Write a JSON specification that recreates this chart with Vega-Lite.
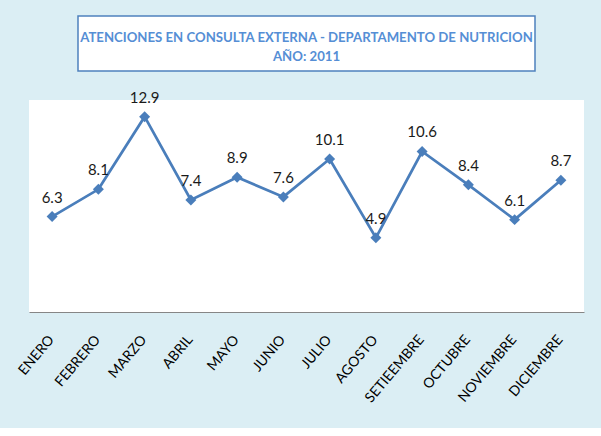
{
  "$schema": "https://vega.github.io/schema/vega-lite/v6.json",
  "background": "#DBEEF4",
  "padding": {"left": 15, "top": 15, "right": 19, "bottom": 22},
  "spacing": 29,
  "bounds": "flush",
  "center": true,
  "config": {
    "font": "Lato, sans-serif"
  },
  "vconcat": [
    {
      "width": 457,
      "height": 55,
      "view": {"fill": "white", "stroke": "#4F81BD", "strokeWidth": 1.5},
      "data": {"values": [{"titulo": ["ATENCIONES EN CONSULTA EXTERNA - DEPARTAMENTO DE NUTRICION", "AÑO: 2011"]}]},
      "mark": {"type": "text", "fontSize": 13.2, "fontWeight": "bold", "color": "#558ED5", "lineHeight": 19, "baseline": "middle", "dy": -6},
      "encoding": {"text": {"field": "titulo", "type": "nominal"}}
    },
    {
      "width": 555,
      "height": 212,
      "view": {"fill": "white", "stroke": null},
      "data": {"values": [
        {"mes": "ENERO", "valor": 6.3},
        {"mes": "FEBRERO", "valor": 8.1},
        {"mes": "MARZO", "valor": 12.9},
        {"mes": "ABRIL", "valor": 7.4},
        {"mes": "MAYO", "valor": 8.9},
        {"mes": "JUNIO", "valor": 7.6},
        {"mes": "JULIO", "valor": 10.1},
        {"mes": "AGOSTO", "valor": 4.9},
        {"mes": "SETIEEMBRE", "valor": 10.6},
        {"mes": "OCTUBRE", "valor": 8.4},
        {"mes": "NOVIEMBRE", "valor": 6.1},
        {"mes": "DICIEMBRE", "valor": 8.7}
      ]},
      "encoding": {
        "x": {
          "field": "mes", "type": "ordinal", "sort": null,
          "axis": {"title": null, "labelAngle": -50, "labelFontSize": 14, "labelColor": "#000000", "labelPadding": 25, "labelOffset": -1, "ticks": false, "domainColor": "#868686", "domainWidth": 1.2, "grid": false}
        },
        "y": {"field": "valor", "type": "quantitative", "scale": {"domain": [0, 14], "nice": false, "zero": true}, "axis": null}
      },
      "layer": [
        {
          "mark": {"type": "line", "color": "#4A7EBB", "strokeWidth": 2.75, "point": {"shape": "diamond", "filled": true, "size": 120, "color": "#4A7EBB"}}
        },
        {
          "mark": {"type": "text", "dy": -19, "fontSize": 15, "color": "#1a1a1a", "baseline": "middle"},
          "encoding": {"text": {"field": "valor", "type": "quantitative", "format": ".1f"}}
        }
      ]
    }
  ]
}
